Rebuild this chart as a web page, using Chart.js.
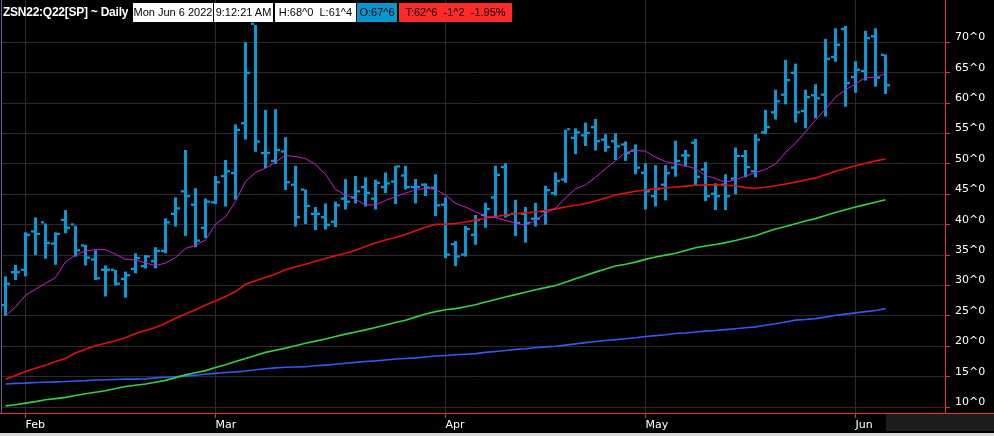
<!DOCTYPE html>
<html>
<head>
<meta charset="utf-8">
<script src="https://cdn.jsdelivr.net/npm/chart.js@4.4.1/dist/chart.umd.min.js"></script>
<style>
html,body{margin:0;padding:0;background:#000;}
#wrap{position:relative;width:994px;height:436px;overflow:hidden;background:#000;}
canvas{display:block;}
.t{position:absolute;top:3px;height:19px;line-height:19px;white-space:pre;font-family:"Liberation Sans",Arial,sans-serif;font-size:11px;overflow:hidden;}
.title{left:3px;color:#fff;font-weight:bold;font-size:12px;letter-spacing:-0.25px;}
.box{color:#000;text-align:center;background:#fff;}
</style>
</head>
<body>
<div id="wrap">
<canvas id="c" width="994" height="436"></canvas>
<div class="t title">ZSN22:Q22[SP] ~ Daily</div>
<div class="t box" style="left:133px;width:80px;">Mon Jun 6 2022</div>
<div class="t box" style="left:214px;width:59px;">9:12:21 AM</div>
<div class="t box" style="left:275px;width:81px;">H:68^0  L:61^4</div>
<div class="t box" style="left:357px;width:40px;background:#0a96cc;">O:67^6</div>
<div class="t box" style="left:399px;width:113px;background:#ff2a2a;">T:62^6  -1^2  -1.95%</div>
</div>
<script>
// ---- data ----
const dates = [
 "2022-01-28","2022-01-31",
 "2022-02-01","2022-02-02","2022-02-03","2022-02-04","2022-02-07","2022-02-08","2022-02-09","2022-02-10","2022-02-11",
 "2022-02-14","2022-02-15","2022-02-16","2022-02-17","2022-02-18","2022-02-22","2022-02-23","2022-02-24","2022-02-25","2022-02-28",
 "2022-03-01","2022-03-02","2022-03-03","2022-03-04","2022-03-07","2022-03-08","2022-03-09","2022-03-10","2022-03-11",
 "2022-03-14","2022-03-15","2022-03-16","2022-03-17","2022-03-18","2022-03-21","2022-03-22","2022-03-23","2022-03-24","2022-03-25",
 "2022-03-28","2022-03-29","2022-03-30","2022-03-31",
 "2022-04-01","2022-04-04","2022-04-05","2022-04-06","2022-04-07","2022-04-08","2022-04-11","2022-04-12","2022-04-13","2022-04-14",
 "2022-04-18","2022-04-19","2022-04-20","2022-04-21","2022-04-22","2022-04-25","2022-04-26","2022-04-27","2022-04-28","2022-04-29",
 "2022-05-02","2022-05-03","2022-05-04","2022-05-05","2022-05-06","2022-05-09","2022-05-10","2022-05-11","2022-05-12","2022-05-13",
 "2022-05-16","2022-05-17","2022-05-18","2022-05-19","2022-05-20","2022-05-23","2022-05-24","2022-05-25","2022-05-26","2022-05-27","2022-05-31",
 "2022-06-01","2022-06-02","2022-06-03","2022-06-06"
];
const openP = [26.6,32.0,32.4,38.7,40.2,36.7,40.6,39.85,36.4,34.1,32.4,32.4,30.9,32.55,33.0,33.8,35.5,41.6,45.3,43.1,
 39.3,43.5,47.8,48.3,56.5,72.85,51.6,50.3,51.85,46.4,45.6,41.6,41.05,40.3,44.1,44.3,46.0,44.1,46.0,46.9,
 47.9,46.0,46.4,45.9,43.1,36.6,34.9,38.15,41.4,44.3,49.3,41.6,41.6,40.8,42.0,45.0,47.25,54.1,54.5,55.85,
 53.8,53.55,53.0,52.0,48.35,44.5,46.4,49.2,51.2,53.3,48.9,44.9,46.4,47.4,51.1,48.6,55.0,58.3,61.2,64.8,
 58.5,61.1,61.2,67.4,72.0,64.1,65.1,70.8,67.75];
const highP = [31.5,33.4,38.75,41.2,40.2,38.75,42.4,39.85,36.7,35.8,33.3,32.55,32.3,35.3,35.0,36.3,41.05,44.5,52.3,46.0,
 44.3,48.0,50.65,56.5,70.0,72.85,58.9,59.0,54.4,49.7,45.8,42.9,43.5,43.8,47.5,48.0,47.8,47.4,48.6,49.7,
 49.7,47.5,46.8,48.3,44.5,37.3,39.8,41.6,43.6,49.7,50.1,44.1,42.9,43.6,46.4,48.6,55.6,55.85,56.8,57.4,
 54.9,55.0,53.7,53.2,50.1,49.8,49.8,53.8,52.3,54.1,50.3,46.8,48.3,52.7,52.3,54.9,58.9,62.2,67.1,66.5,
 62.2,63.1,70.55,72.3,72.7,66.9,71.9,72.3,68.0];
const lowP = [25.0,30.9,31.5,35.0,34.4,33.4,38.6,34.75,33.3,30.9,28.2,30.0,28.0,32.0,32.8,32.8,35.3,39.7,38.15,36.3,
 37.8,43.4,43.0,44.1,54.0,52.0,49.3,50.0,45.7,39.7,40.1,39.1,39.2,39.6,42.5,43.5,43.0,42.5,45.2,43.4,
 45.8,43.5,44.7,41.4,34.5,33.2,34.75,36.7,39.5,41.2,41.2,38.15,37.05,39.7,40.0,44.8,46.9,51.6,52.95,52.2,
 52.0,50.65,50.5,48.3,42.5,43.0,44.0,47.9,49.55,46.4,43.9,42.4,42.4,45.0,47.8,47.8,54.9,57.3,59.8,56.8,
 55.85,57.5,57.8,66.8,59.4,61.7,63.7,62.7,61.5];
const closeP = [30.1,32.0,38.15,38.3,36.8,38.3,39.3,35.6,34.4,31.0,32.4,30.1,31.5,34.3,34.6,35.5,40.2,42.5,44.5,37.2,
 43.6,46.8,48.6,55.4,64.8,53.5,51.6,52.1,46.8,41.05,42.9,41.6,39.8,43.0,43.6,45.3,45.05,46.7,46.6,49.4,
 46.0,46.0,45.9,43.0,34.9,34.6,39.1,40.6,42.4,48.0,41.4,40.1,40.1,40.8,45.5,47.0,55.5,55.0,54.9,53.55,
 52.6,52.7,51.6,49.2,45.3,45.7,48.3,50.3,51.2,47.7,44.5,44.5,44.5,51.1,49.3,53.8,55.85,60.1,63.6,58.3,
 60.8,60.6,67.1,69.4,63.1,65.3,70.5,64.0,62.75];
const maShort = [25.0,26.5,28.4,29.4,30.35,31.3,33.9,35.0,35.7,35.9,35.9,35.15,34.3,34.2,33.7,33.25,33.7,34.6,36.1,36.6,
 37.5,40.1,41.3,43.8,47.1,48.6,49.3,50.3,51.4,51.2,50.9,49.9,48.3,45.8,44.9,44.2,43.25,43.25,44.0,44.6,
 45.2,45.7,46.0,45.8,44.9,43.5,42.9,42.15,41.35,41.2,40.7,40.25,39.9,40.7,41.9,42.7,44.4,45.9,46.55,47.8,
 49.2,50.5,51.9,52.2,52.1,51.1,50.4,50.0,49.7,49.2,48.1,47.6,47.0,47.4,48.0,48.6,49.1,50.0,51.9,53.4,
 55.3,57.2,59.0,61.0,62.2,63.15,64.2,64.2,64.9];
const ma50 = [14.6,15.2,15.85,16.4,16.9,17.5,18.0,18.9,19.5,20.1,20.5,20.9,21.4,22.1,22.6,23.1,23.8,24.6,25.3,26.0,
 26.8,27.45,28.2,29.0,30.2,30.8,31.3,31.9,32.6,33.1,33.5,34.0,34.45,34.9,35.3,35.8,36.4,37.0,37.5,37.9,
 38.4,39.0,39.6,40.05,40.1,40.2,40.45,40.75,41.05,41.35,41.6,41.8,41.95,42.1,42.35,42.6,42.9,43.2,43.5,43.9,
 44.4,44.9,45.2,45.5,45.7,45.9,46.05,46.2,46.35,46.5,46.55,46.55,46.5,46.4,46.1,46.0,46.15,46.4,46.7,47.0,
 47.35,47.7,48.2,48.8,49.25,49.7,50.1,50.5,50.8];
const ma100 = [10.2,10.4,10.65,10.9,11.2,11.4,11.6,11.9,12.2,12.45,12.7,13.05,13.4,13.6,13.8,14.1,14.4,14.85,15.3,15.65,
 16.0,16.5,16.95,17.5,18.0,18.5,19.0,19.35,19.7,20.1,20.5,20.85,21.2,21.6,22.0,22.35,22.7,23.1,23.5,23.9,
 24.3,24.8,25.3,25.7,26.0,26.2,26.5,26.85,27.3,27.7,28.1,28.5,28.9,29.3,29.65,30.0,30.55,31.1,31.65,32.2,
 32.7,33.2,33.5,33.85,34.3,34.7,35.0,35.3,35.75,36.2,36.5,36.75,37.05,37.4,37.8,38.2,38.75,39.3,39.7,40.15,
 40.6,41.0,41.5,42.0,42.45,42.9,43.3,43.7,44.1];
const ma200 = [13.8,13.9,13.95,14.05,14.1,14.15,14.2,14.3,14.35,14.45,14.5,14.55,14.6,14.6,14.65,14.8,14.9,15.0,15.1,15.25,
 15.4,15.55,15.7,15.8,15.95,16.15,16.3,16.45,16.55,16.6,16.65,16.8,16.9,17.05,17.2,17.35,17.5,17.6,17.75,17.9,
 18.0,18.1,18.25,18.4,18.5,18.6,18.7,18.8,19.0,19.15,19.3,19.5,19.6,19.75,19.9,20.0,20.2,20.4,20.6,20.8,
 20.95,21.1,21.25,21.4,21.6,21.75,21.9,22.1,22.2,22.35,22.5,22.6,22.75,22.9,23.05,23.2,23.45,23.7,24.0,24.3,
 24.4,24.55,24.8,25.1,25.3,25.5,25.7,25.9,26.2];
const yTickValues = [10,15,20,25,30,35,40,45,50,55,60,65,70];
const monthNames = ["Jan","Feb","Mar","Apr","May","Jun","Jul","Aug","Sep","Oct","Nov","Dec"];

// month boundary ticks derived from the dates
const monthTickIdx = [], monthTickLabels = [];
dates.forEach((d, i) => {
  if (i > 0 && d.slice(5,7) !== dates[i-1].slice(5,7)) {
    monthTickIdx.push(i);
    monthTickLabels.push(monthNames[parseInt(d.slice(5,7),10) - 1]);
  }
});

// ---- styling ----
const BAR = '#0a99d6';
const RED = '#ee2a2a';
const GRID = '#2b2b2b';
const FONT = {family: "'DejaVu Sans', Verdana, sans-serif", size: 11};

const xy = arr => arr.map((v, i) => ({x: i, y: v}));
// zero-length floating bars: drawn as short stubs via minBarLength
const stub = arr => arr.map((v, i) => ({x: i, y: [v, v]}));

const deco = {
  id: 'deco',
  beforeDraw(chart) {
    const g = chart.ctx;
    g.save(); g.fillStyle = '#000'; g.fillRect(0, 0, chart.width, chart.height); g.restore();
  },
  afterDraw(chart) {
    const g = chart.ctx, a = chart.chartArea;
    g.save();
    g.fillStyle = '#1d1d1d';
    g.fillRect(886, a.bottom + 1, chart.width - 886, 17);
    g.strokeStyle = RED; g.lineWidth = 1;
    g.beginPath();
    g.moveTo(a.right, a.bottom + 0.5); g.lineTo(chart.width, a.bottom + 0.5);
    g.moveTo(0, a.bottom + 0.5); g.lineTo(a.left, a.bottom + 0.5);
    g.stroke();
    g.strokeStyle = '#5b6c8e';
    g.beginPath(); g.moveTo(1.5, 0); g.lineTo(1.5, a.bottom); g.stroke();
    g.fillStyle = '#d9d9d9';
    g.fillRect(0, 433, chart.width, 3);
    g.restore();
  }
};

const barCommon = {type: 'bar', backgroundColor: BAR, borderWidth: 0, barThickness: 3, inflateAmount: 0, order: 2};

new Chart(document.getElementById('c'), {
  type: 'line',
  data: {
    datasets: [
      {type: 'line', label: 'MA short', data: xy(maShort), borderColor: '#d01ad0', borderWidth: 1, pointRadius: 0, tension: 0, order: 0},
      {type: 'line', label: 'MA 50', data: xy(ma50), borderColor: '#e01010', borderWidth: 1.6, pointRadius: 0, tension: 0, order: 0},
      {type: 'line', label: 'MA 100', data: xy(ma100), borderColor: '#35d04a', borderWidth: 1.6, pointRadius: 0, tension: 0, order: 0},
      {type: 'line', label: 'MA 200', data: xy(ma200), borderColor: '#3558f0', borderWidth: 1.6, pointRadius: 0, tension: 0, order: 0},
      Object.assign({label: 'Open', data: stub(openP), minBarLength: 2.3}, barCommon),
      Object.assign({label: 'High-Low', data: lowP.map((l, i) => ({x: i, y: [l, highP[i]]}))}, barCommon),
      Object.assign({label: 'Close', data: stub(closeP), minBarLength: 2.3}, barCommon)
    ]
  },
  options: {
    responsive: false,
    animation: false,
    devicePixelRatio: 1,
    events: [],
    layout: {autoPadding: false, padding: {left: 2, top: 0, right: 0, bottom: 0}},
    plugins: {legend: {display: false}, tooltip: {enabled: false}},
    scales: {
      x: {
        type: 'linear', position: 'bottom', min: -0.35, max: 93.95, offset: false,
        afterBuildTicks: s => { s.ticks = monthTickIdx.map(v => ({value: v})); },
        afterFit: s => { s.height = 23; s.paddingLeft = 0; s.paddingRight = 0; },
        grid: {color: GRID, lineWidth: 1, tickColor: RED, tickLength: 5, offset: false},
        border: {color: RED, width: 1},
        ticks: {color: '#fff', font: FONT, align: 'start', padding: 1, autoSkip: false, maxRotation: 0,
                callback: (v, i) => monthTickLabels[i]}
      },
      y: {
        type: 'linear', position: 'right', min: 9.03, max: 76.96,
        afterBuildTicks: s => { s.ticks = yTickValues.map(v => ({value: v})); },
        afterFit: s => { s.width = 49; s.paddingTop = 0; s.paddingBottom = 0; },
        grid: {color: GRID, lineWidth: 1, tickColor: RED, tickLength: 5},
        border: {color: RED, width: 1},
        ticks: {color: '#fff', font: FONT, padding: 5, labelOffset: -5, callback: v => v + '^0'}
      }
    }
  },
  plugins: [deco]
});
</script>
</body>
</html>
